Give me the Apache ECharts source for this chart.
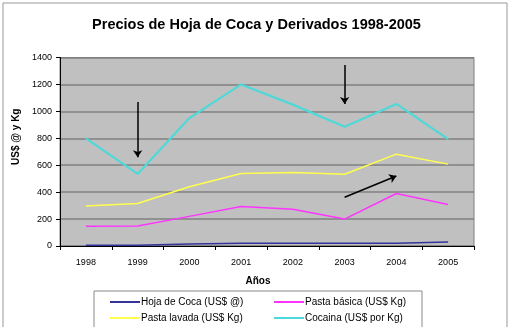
<!DOCTYPE html>
<html>
<head>
<meta charset="utf-8">
<script src="https://cdn.jsdelivr.net/npm/echarts@6/dist/echarts.min.js"></script>
<style>
  html, body { margin: 0; padding: 0; background: #fff; }
  #chart { width: 513px; height: 327px; }
</style>
</head>
<body>
<div id="chart"></div>
<script>
const years = ['1998', '1999', '2000', '2001', '2002', '2003', '2004', '2005'];
const hojaCoca = [5, 5, 15, 20, 20, 20, 20, 30];
const pastaBasica = [147, 148, 220, 293, 273, 200, 390, 308];
const pastaLavada = [298, 315, 440, 539, 545, 533, 682, 608];
const cocaina = [800, 535, 950, 1200, 1050, 885, 1055, 794];
const yTicks = { min: 0, max: 1400, interval: 200 };

// arrows drawn on the chart, given in data space [category index, value]
const arrows = [
    [[1, 1070], [1, 660]],
    [[5, 1345], [5, 1055]],
    [[5.05, 362], [5.95, 520]]
];

const chartDom = document.getElementById('chart');
const myChart = echarts.init(chartDom);

const fontFam = 'Liberation Sans, Arial, sans-serif';

const lineSeries = (name, data, color, width) => ({
    name: name,
    type: 'line',
    data: data,
    showSymbol: false,
    symbol: 'none',
    lineStyle: { color: color, width: width },
    itemStyle: { color: color },
    z: 3
});

const cocSeries = lineSeries('Cocaina (US$ por Kg)', cocaina, '#4fd8d8', 2.2);
cocSeries.markLine = {
    silent: true,
    symbol: ['none', 'arrow'],
    symbolSize: 7,
    label: { show: false },
    lineStyle: { color: '#000', width: 1.5, type: 'solid' },
    data: arrows.map(a => [{ coord: a[0] }, { coord: a[1] }])
};

const legendItem = (name, left, top) => ({
    data: [name],
    left: left,
    top: top,
    padding: 0,
    itemWidth: 30,
    itemHeight: 2,
    icon: 'rect',
    textStyle: { fontFamily: fontFam, fontSize: 10, color: '#000', padding: [0, 0, 0, -4] }
});

const option = {
    animation: false,
    backgroundColor: '#fff',
    title: {
        text: 'Precios de Hoja de Coca y Derivados 1998-2005',
        left: 'center',
        top: 12,
        textStyle: { fontFamily: fontFam, fontSize: 14.5, fontWeight: 'bold', color: '#000' }
    },
    graphic: [
        {
            type: 'rect',
            shape: { x: 3, y: 3, width: 504, height: 330 },
            style: { fill: 'none', stroke: '#999', lineWidth: 1 },
            silent: true
        },
        {
            type: 'rect',
            shape: { x: 94, y: 291, width: 328, height: 45 },
            style: { fill: '#fff', stroke: '#888', lineWidth: 1 },
            silent: true
        }
    ],
    legend: [
        legendItem('Hoja de Coca (US$ @)', 110, 297),
        legendItem('Pasta básica (US$ Kg)', 274, 297),
        legendItem('Pasta lavada (US$ Kg)', 110, 313),
        legendItem('Cocaina (US$ por Kg)', 274, 313)
    ],
    grid: {
        left: 60,
        right: 39,
        top: 57.5,
        bottom: 81,
        show: true,
        backgroundColor: '#c0c0c0',
        borderColor: '#808080',
        borderWidth: 1
    },
    xAxis: {
        type: 'category',
        data: years,
        boundaryGap: true,
        name: 'Años',
        nameLocation: 'middle',
        nameGap: 30,
        nameTextStyle: { fontFamily: fontFam, fontSize: 10, fontWeight: 'bold', color: '#000', padding: [0, 18, 0, 0] },
        axisLine: { lineStyle: { color: '#000', width: 1 } },
        axisTick: { show: true, length: 4, alignWithLabel: false, lineStyle: { color: '#000' } },
        axisLabel: { fontFamily: fontFam, fontSize: 9, color: '#000', margin: 12 },
        splitLine: { show: false }
    },
    yAxis: {
        type: 'value',
        min: yTicks.min,
        max: yTicks.max,
        interval: yTicks.interval,
        name: 'US$ @ y Kg',
        nameLocation: 'middle',
        nameGap: 34,
        nameTextStyle: { fontFamily: fontFam, fontSize: 10, fontWeight: 'bold', color: '#000', padding: [0, 0, 0, 30] },
        axisLine: { show: true, lineStyle: { color: '#000', width: 1 } },
        axisTick: { show: true, length: 4, lineStyle: { color: '#000' } },
        axisLabel: { fontFamily: fontFam, fontSize: 9, color: '#000', margin: 8, formatter: v => String(v) },
        splitLine: { show: true, lineStyle: { color: '#808080', width: 1.5 } }
    },
    series: [
        lineSeries('Hoja de Coca (US$ @)', hojaCoca, '#333399', 1.5),
        lineSeries('Pasta básica (US$ Kg)', pastaBasica, '#ff33ff', 1.5),
        lineSeries('Pasta lavada (US$ Kg)', pastaLavada, '#ffff4d', 1.5),
        cocSeries
    ]
};

option && myChart.setOption(option);
</script>
</body>
</html>
